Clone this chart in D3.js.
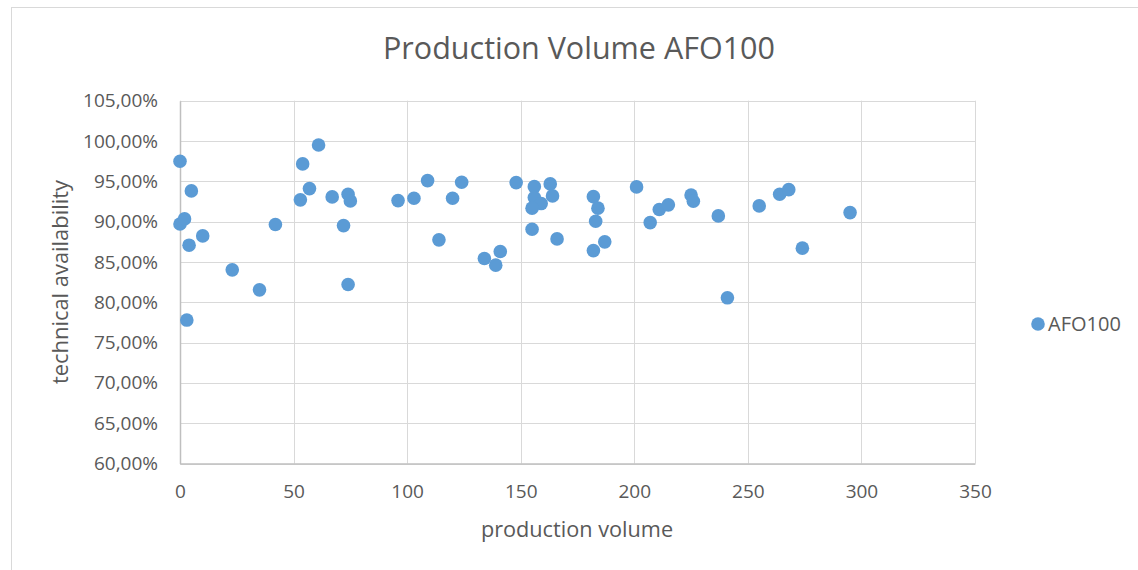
<!DOCTYPE html>
<html>
<head>
<meta charset="utf-8">
<script src="https://cdn.jsdelivr.net/npm/d3@7"></script>
<style>
  html, body { margin: 0; padding: 0; background: #fff; }
  svg { display: block; }
  text { font-family: "Open Sans", sans-serif; fill: #595959; }
</style>
</head>
<body>
<svg id="chart" width="1138" height="570"></svg>
<script>
const chartTitle = "Production Volume AFO100";
const seriesName = "AFO100";
const xLabel = "production volume";
const yLabel = "technical availability";
const xTicks = [0, 50, 100, 150, 200, 250, 300, 350];
const yTicks = [0.60, 0.65, 0.70, 0.75, 0.80, 0.85, 0.90, 0.95, 1.00, 1.05];

const volume = [0, 61, 54, 5, 57, 53, 67, 74, 75, 0, 2, 42, 72, 10, 4, 23, 35, 74, 3,
  96, 103, 109, 120, 124, 114, 148, 156, 163, 156, 164, 159, 155, 155, 166, 141, 134, 139,
  182, 184, 183, 187, 182, 201, 207, 211, 215, 225, 226, 237, 241, 255, 264, 268, 274, 295];
const availability = [0.9749, 0.9951, 0.9716, 0.9381, 0.9410, 0.9270, 0.9307, 0.9340, 0.9257, 0.8970, 0.9034, 0.8964, 0.8951, 0.8823, 0.8708, 0.8402, 0.8154, 0.8220, 0.7779,
  0.9261, 0.9290, 0.9509, 0.9290, 0.9489, 0.8774, 0.9484, 0.9434, 0.9468, 0.9298, 0.9319, 0.9224, 0.9167, 0.8906, 0.8786, 0.8629, 0.8542, 0.8460,
  0.9310, 0.9167, 0.9005, 0.8749, 0.8641, 0.9431, 0.8988, 0.9150, 0.9208, 0.9331, 0.9253, 0.9071, 0.8055, 0.9195, 0.9340, 0.9397, 0.8671, 0.9112];

const data = volume.map((v, i) => ({ x: v, y: availability[i] }));

const svg = d3.select("#chart");
const margin = { left: 180, top: 100.7, right: 975, bottom: 463.5 };

// chart border
svg.append("rect").attr("x", 11.5).attr("y", 7.5).attr("width", 1140).attr("height", 580)
  .attr("fill", "none").attr("stroke", "#d9d9d9").attr("stroke-width", 1);

const x = d3.scaleLinear().domain([0, 350]).range([margin.left, margin.right]);
const y = d3.scaleLinear().domain([0.60, 1.05]).range([margin.bottom, margin.top]);

// gridlines
svg.append("g").selectAll("line.h").data(yTicks).join("line")
  .attr("x1", margin.left).attr("x2", margin.right)
  .attr("y1", d => Math.round(y(d)) + 0.5).attr("y2", d => Math.round(y(d)) + 0.5)
  .attr("stroke", "#d9d9d9").attr("stroke-width", 1);
svg.append("g").selectAll("line.v").data(xTicks).join("line")
  .attr("y1", margin.top).attr("y2", margin.bottom)
  .attr("x1", d => Math.round(x(d)) + 0.5).attr("x2", d => Math.round(x(d)) + 0.5)
  .attr("stroke", "#d9d9d9").attr("stroke-width", 1);

// axes
const fmtPct = d => d3.format(".2f")(d * 100).replace(".", ",") + "%";
const yAxis = svg.append("g").attr("transform", `translate(${margin.left},0)`)
  .call(d3.axisLeft(y).tickValues(yTicks).tickFormat(fmtPct).tickSize(0).tickPadding(22));
yAxis.select(".domain").attr("stroke", "#bfbfbf").attr("stroke-width", 1.5);
yAxis.selectAll("text").attr("font-size", 19).attr("fill", "#595959");

const xAxis = svg.append("g").attr("transform", `translate(0,${margin.bottom})`)
  .call(d3.axisBottom(x).tickValues(xTicks).tickFormat(d3.format("d")).tickSize(0).tickPadding(21));
xAxis.select(".domain").attr("stroke", "#bfbfbf").attr("stroke-width", 1.5);
xAxis.selectAll("text").attr("font-size", 19).attr("fill", "#595959");

// points
svg.append("g").selectAll("circle").data(data).join("circle")
  .attr("cx", d => x(d.x)).attr("cy", d => y(d.y)).attr("r", 6.8)
  .attr("fill", "#5b9bd5");

// title
svg.append("text").attr("x", 579).attr("y", 59).attr("text-anchor", "middle")
  .attr("font-size", 30.5).text(chartTitle);

// axis titles
svg.append("text").attr("x", 577).attr("y", 537).attr("text-anchor", "middle")
  .attr("font-size", 21.7).text(xLabel);
svg.append("text").attr("transform", "translate(68,282) rotate(-90)").attr("text-anchor", "middle")
  .attr("font-size", 21.9).text(yLabel);

// legend
svg.append("circle").attr("cx", 1038).attr("cy", 324).attr("r", 6.8).attr("fill", "#5b9bd5");
svg.append("text").attr("x", 1048).attr("y", 331).attr("font-size", 20).text(seriesName);
</script>
</body>
</html>
